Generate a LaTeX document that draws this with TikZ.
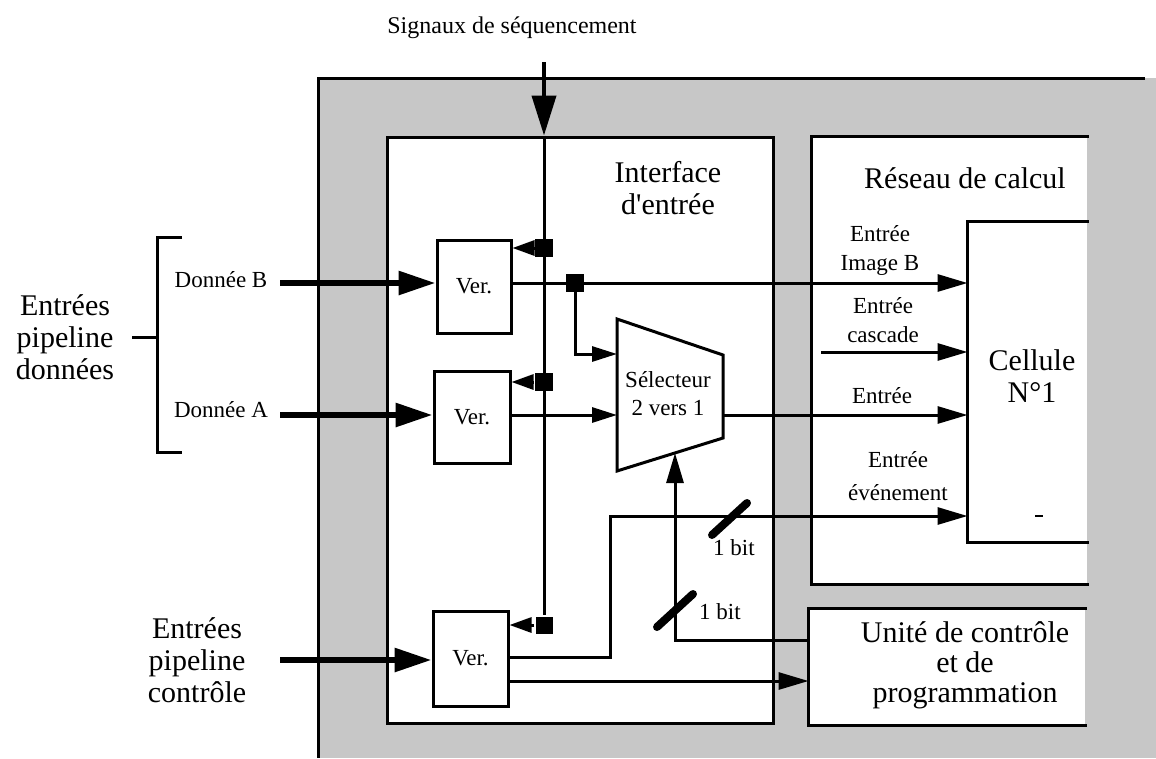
\documentclass[tikz,border=0pt]{standalone}
\usepackage{fontspec}
\setmainfont{Liberation Serif}
\usetikzlibrary{arrows.meta,calc}
\begin{document}
\begin{tikzpicture}[x=1pt,y=-1pt,line width=3pt,
  bigtxt/.style={font=\fontsize{30}{32}\selectfont, align=center, inner sep=0pt},
  smalltxt/.style={font=\fontsize{23}{29}\selectfont, align=center, inner sep=0pt},
  verbox/.style={draw, fill=white, inner sep=0pt, font=\fontsize{23}{28}\selectfont},
  openbox/.style={fill=white, inner sep=0pt},
  sq/.style={fill=black, minimum size=18pt, inner sep=0pt},
  arrS/.style={-{Triangle[length=30pt,width=17pt]}},
  arrM/.style={-{Triangle[length=25pt,width=15pt]}},
  arrT/.style={-{Triangle[length=22pt,width=15pt]}},
  arrL/.style={line width=6pt,-{Triangle[length=37pt,width=23pt]}},
  slash/.style={line width=8pt, line cap=round}]
\useasboundingbox (0,0) rectangle (1156,758);
% shaded background
\fill[black!22] (318,78) rectangle (1156,758);
\draw (1145,78) -- (318,78) -- (318,758);

% main boxes
\node[draw, fill=white, inner sep=0pt, minimum width=386pt, minimum height=586pt] (iface) at (580,430) {};
\node[openbox, minimum width=274pt, minimum height=445pt] (reseau) at (950,360.5) {};
\draw (reseau.north east) -| (reseau.south west) -- (reseau.south east);
\node[openbox, minimum width=118pt, minimum height=318pt] (cell) at (1028,382) {};
\draw (cell.north east) -| (cell.south west) -- (cell.south east);
\node[openbox, minimum width=275pt, minimum height=114pt] (ucbox) at (947.5,667) {};
\draw (ucbox.north east) -| (ucbox.south west) -- (ucbox.south east);

% texts
\node[font=\fontsize{24}{28}\selectfont, inner sep=0pt] (tsig) at (512,28) {Signaux de séquencement};
\node[bigtxt] (tiface) at (668,188) {Interface\\d\textquotesingle entrée};
\node[bigtxt] (treseau) at (965,178) {Réseau de calcul};
\node[bigtxt] (tcell) at (1032,376) {Cellule\\N°1};
\node[bigtxt, font=\fontsize{30}{30}\selectfont] (tucp) at (965,665) {Unité de contrôle\\et de\\programmation};
\node[bigtxt] (tepd) at (65,337) {Entrées\\pipeline\\données};
\node[bigtxt] (tepc) at (197,660) {Entrées\\pipeline\\contrôle};
\node[smalltxt] (tdb) at (221,280) {Donnée B};
\node[smalltxt] (tda) at (221,410) {Donnée A};
\node[smalltxt] (tib) at (880,250) {Entrée\\Image B};
\node[smalltxt] (tcasc) at (883,320) {Entrée\\cascade};
\node[smalltxt] (tent) at (882,396) {Entrée};
\node[smalltxt, font=\fontsize{23}{33}\selectfont] (tevt) at (898,476) {Entrée\\événement};
\node[smalltxt] (tbit1) at (734,548) {1 bit};
\node[smalltxt] (tbit2) at (720,612) {1 bit};

% Ver boxes
\node[verbox, minimum width=74pt, minimum height=93pt] (verB) at (474,286.5) {Ver.};
\node[verbox, minimum width=76pt, minimum height=92pt] (verA) at (472,417) {Ver.};
\node[verbox, minimum width=75pt, minimum height=95pt] (verC) at (470.5,658.5) {Ver.};

% selector
\coordinate (s1) at (617,319);
\coordinate (s2) at (723,355);
\coordinate (s3) at (723,438);
\coordinate (s4) at (617,471);
\draw[fill=white] (s1) -- (s2) -- (s3) -- (s4) -- cycle;
\node[smalltxt, font=\fontsize{23}{28}\selectfont] (tsel) at (668,394) {Sélecteur\\2 vers 1};

% squares
\node[sq] (sqB1) at (544,248) {};
\node[sq] (sqA) at (544,382) {};
\node[sq, minimum size=17pt] (sqC) at (544,625) {};
\node[sq] (sqB2) at (575,283) {};

% sequencing signal
\coordinate (sigtop) at (544,62);
\draw[line width=4pt,-{Triangle[length=40pt,width=24pt]}] (sigtop) -- (sigtop |- iface.north);
\draw (sigtop |- iface.north) -- (sqC);
\draw[arrT] (sqB1.west) -- (sqB1 -| verB.east);
\draw[arrT] (sqA.west) -- (sqA -| verA.east);
\draw[arrT] (sqC.west) -- (sqC -| verC.east);

% data inputs
\coordinate (dB) at (280,283);
\coordinate (dA) at (280,415);
\coordinate (dC) at (280,660);
\draw[arrL] (dB) -- (dB -| verB.west);
\draw[arrL] (dA) -- (dA -| verA.west);
\draw[arrL] (dC) -- (dC -| verC.west);

% bracket
\draw (182,237) -- (157,237) -- (157,452) -- (182,452);
\draw (132,337) -- (157,337);

% connections
\coordinate (selIn1) at (617,354);
\coordinate (selIn2) at (617,415);
\coordinate (selOut) at (723,415);
\coordinate (casc) at (821,352);
\coordinate (evtA) at (610,657);
\coordinate (evtB) at (610,516);
\coordinate (cl) at (600,681);
\coordinate (ctl) at (675,640);
\coordinate (selBot) at (675,453);
\draw[arrS] (sqB2 -| verB.east) -- (sqB2 -| cell.west);
\draw[arrM] (sqB2.center) |- (selIn1);
\draw[arrM] (selIn2 -| verA.east) -- (selIn2);
\draw[arrS] (selOut) -- (selOut -| cell.west);
\draw[arrS] (casc) -- (casc -| cell.west);
\draw[arrS] (evtA -| verC.east) -- (evtA) -- (evtB) -- (evtB -| cell.west);
\draw[arrS] (cl -| verC.east) -- (cl -| ucbox.west);
\draw[arrS] (ctl -| ucbox.west) -- (ctl) -- (selBot);

% bit-width marks
\draw[slash] (657,627) -- (693,594);
\draw[slash] (712,535) -- (747,503);

% small mark inside the cell
\draw[line width=1.5pt] (1035,516) -- (1043,516);
\end{tikzpicture}
\end{document}
